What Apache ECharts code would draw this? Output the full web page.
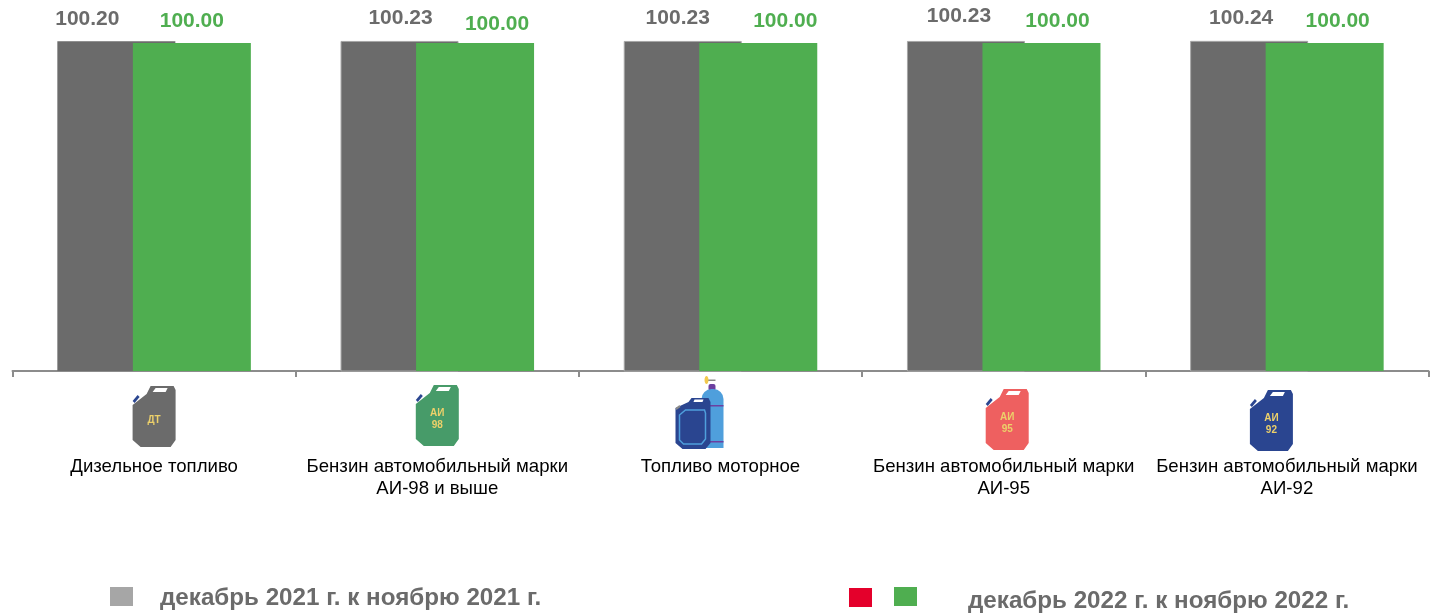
<!DOCTYPE html>
<html>
<head>
<meta charset="utf-8">
<title>Fuel price index</title>
<style>
  html, body { margin: 0; padding: 0; background: #fff; }
  #chart { width: 1439px; height: 613px; }
</style>
<script src="https://cdn.jsdelivr.net/npm/echarts@6/dist/echarts.min.js"></script>
</head>
<body>
<div id="chart"></div>
<script>
var categories = [
    'Дизельное топливо',
    'Бензин автомобильный марки\nАИ-98 и выше',
    'Топливо моторное',
    'Бензин автомобильный марки\nАИ-95',
    'Бензин автомобильный марки\nАИ-92'
];
var values2021 = [100.20, 100.23, 100.23, 100.23, 100.24];
var values2022 = [100.00, 100.00, 100.00, 100.00, 100.00];
var name2021 = 'декабрь 2021 г. к ноябрю 2021 г.';
var name2022 = 'декабрь 2022 г. к ноябрю 2022 г.';

// подписи в исходнике сдвинуты вручную
var offsets2021 = [[-29, -7], [1, -7], [-5, -7], [-7, -9], [-8, -7]];
var offsets2022 = [[0, -6], [22, -3], [27, -6], [16, -6], [13, -6]];

var FONT = '"Liberation Sans", Arial, sans-serif';
var GREY = '#6b6b6b';
var GREEN = '#4fae50';

var labelled = function(values, offsets, color) {
    return values.map(function(v, i) {
        return {
            value: v,
            label: {
                show: true,
                position: 'top',
                offset: offsets[i],
                formatter: v.toFixed(2),
                fontFamily: FONT,
                fontSize: 21,
                fontWeight: 'bold',
                color: color
            }
        };
    });
};

var greyData = labelled(values2021, offsets2021, GREY);
// у всех столбцов кроме первого светлая кромка
greyData.forEach(function(d, i) {
    if(i > 0) {
        d.itemStyle = { borderColor: '#a6a6a6', borderWidth: 1 };
    }
});

var chart = echarts.init(document.getElementById('chart'));
chart.setOption({
    animation: false,
    textStyle: { fontFamily: FONT },
    grid: { left: 12.5, right: 10.5, top: 6.6, bottom: 242 },
    legend: [
        {
            left: 110, top: 586, padding: 0,
            // пустой хвост в пути опускает текст относительно квадрата
            icon: 'path://M0,0L23,0L23,19L0,19Z M0,22L0,22Z',
            itemWidth: 23, itemHeight: 22,
            data: [{ name: name2021, itemStyle: { color: '#a6a6a6' } }],
            textStyle: { fontFamily: FONT, fontSize: 24.2, fontWeight: 'bold', color: GREY, padding: [0, 0, 0, 22] }
        },
        {
            left: 894, top: 587, padding: 0,
            icon: 'path://M0,0L23,0L23,19L0,19Z M0,28L0,28Z',
            itemWidth: 23, itemHeight: 28,
            data: [{ name: name2022, itemStyle: { color: GREEN } }],
            textStyle: { fontFamily: FONT, fontSize: 24.2, fontWeight: 'bold', color: GREY, padding: [0, 0, 0, 46] }
        }
    ],
    xAxis: {
        type: 'category',
        data: categories,
        axisLine: { lineStyle: { color: '#8c8c8c', width: 2 } },
        axisTick: { show: true, length: 6, lineStyle: { color: '#8c8c8c', width: 2 } },
        axisLabel: {
            interval: 0,
            margin: 85,
            fontFamily: FONT,
            fontSize: 18.6,
            lineHeight: 22,
            color: '#000'
        }
    },
    yAxis: { type: 'value', min: 64, max: 104, show: false, splitLine: { show: false } },
    series: [
        {
            name: name2021, type: 'bar', barWidth: 118, barGap: '-36%',
            itemStyle: { color: GREY },
            data: greyData
        },
        {
            name: name2022, type: 'bar', barWidth: 118,
            itemStyle: { color: GREEN },
            data: labelled(values2022, offsets2022, GREEN)
        }
    ]
});

// канистра: x,y - левый верхний угол
var canister = function(x, y, color, lines) {
    var kids = [
        { type: 'polygon', shape: { points: [[0, 19], [14, 8], [18, 0], [41, 0], [43, 4], [43, 54], [38, 61], [8, 61], [0, 54]] }, style: { fill: color } },
        { type: 'polygon', shape: { points: [[0, 15], [5, 9], [7, 11], [2, 17]] }, style: { fill: '#2a4590' } },
        { type: 'polygon', shape: { points: [[20, 6], [23, 2], [35, 2], [33, 6]] }, style: { fill: '#fff' } },
        {
            type: 'text',
            style: {
                x: 21.5, y: 34, text: lines, fill: '#ecd06a', align: 'center', verticalAlign: 'middle',
                font: 'bold 10px ' + FONT, lineHeight: 12
            }
        }
    ];
    return { type: 'group', x: x, y: y, children: kids };
};

// газовый баллон с канистрой
var cylinder = function(x, y) {
    return {
        type: 'group', x: x, y: y,
        children: [
            { type: 'rect', shape: { x: 32, y: 2.5, width: 8, height: 1.5 }, style: { fill: '#8a8a8a' } },
            { type: 'ellipse', shape: { cx: 31, cy: 3, rx: 2, ry: 4 }, style: { fill: '#f2c94c' } },
            { type: 'rect', shape: { x: 33, y: 7, width: 7, height: 7, r: 2 }, style: { fill: '#6c3fa0' } },
            { type: 'rect', shape: { x: 26, y: 12, width: 22, height: 59, r: [10, 10, 0, 0] }, style: { fill: '#4f9fdc' } },
            { type: 'rect', shape: { x: 34, y: 28, width: 14, height: 1.5 }, style: { fill: '#6c3fa0' } },
            { type: 'rect', shape: { x: 34, y: 64, width: 14, height: 1.5 }, style: { fill: '#6c3fa0' } },
            { type: 'polygon', shape: { points: [[0, 31], [13, 25], [16, 21], [33, 21], [35, 25], [35, 66], [30, 72], [7, 72], [0, 66]] }, style: { fill: '#2a4590' } },
            { type: 'polygon', shape: { points: [[0, 31], [4, 28], [5, 30], [1, 33]] }, style: { fill: '#8a8a8a' } },
            { type: 'polygon', shape: { points: [[18, 25], [19, 22.5], [28, 22.5], [27, 25]] }, style: { fill: '#fff' } },
            { type: 'polygon', shape: { points: [[4, 38], [10, 33], [29, 33], [30, 36], [30, 62], [26, 67], [8, 67], [4, 63]] }, style: { fill: 'none', stroke: '#4f9fdc', lineWidth: 1.5 } }
        ]
    };
};

var axisY = chart.convertToPixel({ yAxisIndex: 0 }, 64);
var centerX = function(i) { return chart.convertToPixel({ xAxisIndex: 0 }, i); };

chart.setOption({
    graphic: [
        canister(centerX(0) - 21.5, axisY + 15, GREY, 'ДТ'),
        canister(centerX(1) - 21.5, axisY + 14, '#479b69', 'АИ\n98'),
        cylinder(centerX(2) - 45, axisY + 6),
        canister(centerX(3) - 18, axisY + 18, '#ee6060', 'АИ\n95'),
        canister(centerX(4) - 37, axisY + 19, '#2a4590', 'АИ\n92'),
        { type: 'rect', shape: { x: 849, y: 588, width: 23, height: 19 }, style: { fill: '#e4002b' } }
    ]
});
</script>
</body>
</html>
